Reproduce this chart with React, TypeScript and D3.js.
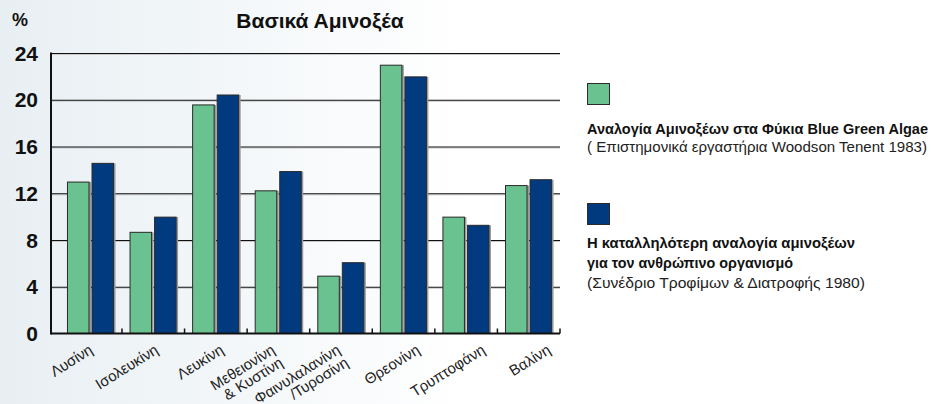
import React from "react";
import * as d3 from "d3";

const categories = ["Λυσίνη", "Ισολευκίνη", "Λευκίνη", "Μεθειονίνη|& Κυστίνη", "Φαινυλαλανίνη|/Τυροσίνη", "Θρεονίνη", "Τρυπτοφάνη", "Βαλίνη"];
const algaeValues = [13, 8.7, 19.6, 12.25, 4.95, 23, 10, 12.7];
const humanValues = [14.6, 10, 20.45, 13.9, 6.1, 22, 9.3, 13.2];
const yTicks = [0, 4, 8, 12, 16, 20, 24];
const seriesKeys = ["algae", "human"];
const seriesColors = ["#69c28f", "#023a80"];
const legendLines1 = ["Αναλογία Αμινοξέων στα Φύκια Blue Green Algae", "( Επιστημονικά εργαστήρια Woodson Tenent 1983)"];
const legendLines2 = ["Η καταλληλότερη αναλογία αμινοξέων", "για τον ανθρώπινο οργανισμό", "(Συνέδριο Τροφίμων & Διατροφής 1980)"];

const W = 931;
const H = 404;
const FONT = "'Liberation Sans', Arial, sans-serif";

export default function App() {
  const axisX = 51;
  const x = d3.scaleBand<string>().domain(categories).range([59.4, 560]).paddingInner(0).paddingOuter(0);
  const bw = x.bandwidth();
  const inner = d3.scaleBand<string>().domain(seriesKeys).range([bw * 0.121, bw * 0.873]).paddingInner(0.082);
  const y = d3.scaleLinear().domain([0, 24]).range([333.5, 53]);
  const series = [algaeValues, humanValues];
  const labelX = d3.scaleLinear().domain([90.7, 528.9]).range([88, 546]);

  return (
    <svg width={W} height={H} style={{ position: "fixed", left: 0, top: 0 }} fontFamily={FONT}>
      <defs>
        <linearGradient id="bg" x1="0" y1="0" x2="1" y2="0">
          <stop offset="0" stopColor="#e8eff3" />
          <stop offset="0.5" stopColor="#ffffff" />
          <stop offset="1" stopColor="#ffffff" />
        </linearGradient>
      </defs>
      <rect x={0} y={0} width={W} height={H} fill="url(#bg)" />

      {/* gridlines */}
      {yTicks.filter((t) => t > 0).map((t) => (
        <g key={t}>
          <line x1={axisX} x2={560} y1={y(t) + 1.5} y2={y(t) + 1.5} stroke="#c8c8c8" strokeWidth={1} />
          <line x1={axisX} x2={560} y1={y(t) + 0.5} y2={y(t) + 0.5} stroke="#111" strokeWidth={1} />
        </g>
      ))}

      {/* bars */}
      {categories.map((c, i) => (
        <g key={c} transform={`translate(${x(c)},0)`}>
          {seriesKeys.map((k, j) => {
            const v = series[j][i];
            const bx = inner(k)!;
            const bwid = inner.bandwidth();
            return (
              <g key={k}>
                <rect x={bx + 1.5} y={y(v) + 0.5} width={bwid} height={y(0) - y(v)} fill="#9a9a9a" />
                <rect x={bx + 0.5} y={y(v) + 0.5} width={bwid - 1} height={y(0) - y(v) - 0.5} fill={seriesColors[j]} stroke="#2b2b2b" strokeWidth={1} />
              </g>
            );
          })}
        </g>
      ))}

      {/* axes */}
      <line x1={axisX} x2={560} y1={y(0)} y2={y(0)} stroke="#111" strokeWidth={2} />
      <line x1={axisX} x2={axisX} y1={y(24) - 0.5} y2={y(0) + 1} stroke="#111" strokeWidth={2} />
      {categories.map((c) => (
        <line key={c} x1={x(c)! + bw} x2={x(c)! + bw} y1={y(0) - 5} y2={y(0)} stroke="#111" strokeWidth={1.5} />
      ))}

      {/* y tick labels */}
      {yTicks.map((t) => (
        <text key={t} x={38} y={y(t) + 7.5} textAnchor="end" fontSize={21} fontWeight="bold" fill="#111">
          {t}
        </text>
      ))}
      <text x={12} y={26} fontSize={18} fontWeight="bold" fill="#111">%</text>
      <text x={320} y={28} textAnchor="middle" fontSize={21} fontWeight="bold" fill="#111">Βασικά Αμινοξέα</text>

      {/* x labels */}
      {categories.map((c) => {
        const lines = c.split("|");
        const cx = x(c)! + bw / 2;
        const shift = lines.length > 1 ? -14 : 0;
        return (
          <text key={c} transform={`translate(${labelX(cx) + shift},${343}) rotate(-32)`} textAnchor="end" fontSize={15} fill="#222">
            {lines.map((l, k) => (
              <tspan key={k} x={0} dy={k === 0 ? "0.75em" : "1.0em"}>
                {l}
              </tspan>
            ))}
          </text>
        );
      })}

      {/* legend */}
      <rect x={587.5} y={83.5} width={22} height={21} fill={seriesColors[0]} stroke="#2b2b2b" />
      <text x={587} y={134} fontSize={14.5} fontWeight="bold" fill="#111" textLength={341} lengthAdjust="spacingAndGlyphs">{legendLines1[0]}</text>
      <text x={587} y={152} fontSize={14.5} fill="#222" textLength={340} lengthAdjust="spacingAndGlyphs">{legendLines1[1]}</text>

      <rect x={587.5} y={203.5} width={22} height={21} fill={seriesColors[1]} stroke="#2b2b2b" />
      <text x={587} y={248} fontSize={14.5} fontWeight="bold" fill="#111" textLength={268} lengthAdjust="spacingAndGlyphs">{legendLines2[0]}</text>
      <text x={587} y={268} fontSize={14.5} fontWeight="bold" fill="#111" textLength={206} lengthAdjust="spacingAndGlyphs">{legendLines2[1]}</text>
      <text x={587} y={288} fontSize={14.5} fill="#222" textLength={278} lengthAdjust="spacingAndGlyphs">{legendLines2[2]}</text>
    </svg>
  );
}
